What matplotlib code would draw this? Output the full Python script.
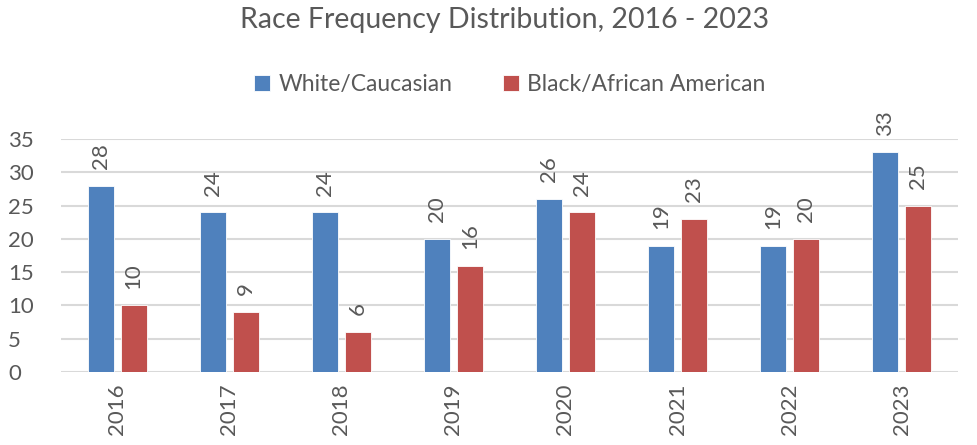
import numpy as np
import matplotlib
matplotlib.use("Agg")
import matplotlib.pyplot as plt

years = ['2016', '2017', '2018', '2019', '2020', '2021', '2022', '2023']
white = [28, 24, 24, 20, 26, 19, 19, 33]
black = [10, 9, 6, 16, 24, 23, 20, 25]
series_names = ['White/Caucasian', 'Black/African American']
colors = ['#4F81BD', '#C0504D']

plt.rcParams['font.family'] = ['Lato', 'DejaVu Sans']
txt = '#595959'

fig = plt.figure(figsize=(9.78, 4.45), dpi=100)
ax = fig.add_axes([0.0624, 0.164, 0.917, 0.5236])

x = np.arange(len(years))
w = 0.232
off = 0.147
for vals, name, c, d in [(white, series_names[0], colors[0], -off),
                         (black, series_names[1], colors[1], off)]:
    bars = ax.bar(x + d, vals, width=w, color=c, edgecolor='white',
                  linewidth=0.6, label=name, zorder=3)
    for b, v in zip(bars, vals):
        ax.annotate(str(v), (b.get_x() + b.get_width() / 2, v),
                    xytext=(0, 12), textcoords='offset points',
                    ha='center', va='bottom', rotation=90,
                    fontsize=16, color=txt)

ax.set_xlim(-0.5, len(years) - 0.5)
ax.set_ylim(0, 35)
ax.set_yticks(range(0, 36, 5))
ax.set_xticks(x)
ax.set_xticklabels(years, rotation=90)
ax.tick_params(axis='both', length=0, labelsize=16, labelcolor=txt)
ax.tick_params(axis='x', pad=8)
ax.tick_params(axis='y', pad=38)
for lbl in ax.get_yticklabels():
    lbl.set_ha('left')
ax.grid(axis='y', color='#D9D9D9', linewidth=1.5, zorder=0)
for s in ax.spines.values():
    s.set_visible(False)

fig.suptitle('Race Frequency Distribution, 2016 - 2023', x=0.516, y=0.985,
             fontsize=20.5, color=txt)
fig.legend(loc='center', bbox_to_anchor=(0.521, 0.81), ncol=2, frameon=False,
           fontsize=16.5, handlelength=0.7, handleheight=0.7,
           handletextpad=0.35, columnspacing=2.2, labelcolor=txt)

fig.savefig('out.png', dpi=100)
